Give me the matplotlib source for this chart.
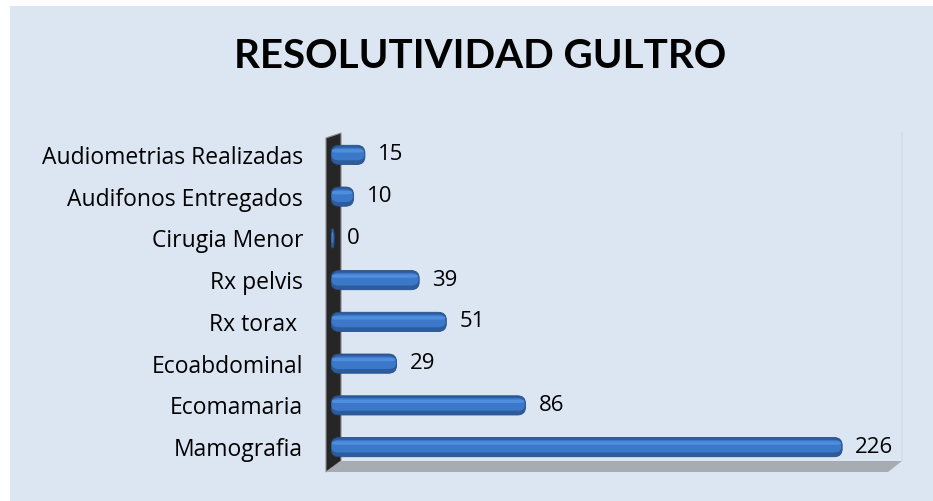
import matplotlib
matplotlib.use("Agg")
import matplotlib.pyplot as plt
from matplotlib.patches import Rectangle, Polygon, FancyBboxPatch

# Data
categories = ["Mamografia", "Ecomamaria", "Ecoabdominal", "Rx torax ",
              "Rx pelvis", "Cirugia Menor", "Audifonos Entregados",
              "Audiometrias Realizadas"]
values = [226, 86, 29, 51, 39, 0, 10, 15]
title = "RESOLUTIVIDAD GULTRO"

W, H = 933, 501
plt.rcParams["font.family"] = ["Open Sans", "DejaVu Sans"]

fig = plt.figure(figsize=(W / 100, H / 100), dpi=100)
fig.patch.set_facecolor("white")

# Light blue chart panel
panel_col = "#DCE6F2"
fig.add_artist(Rectangle((10 / W, 0), 1 - 10 / W, 1 - 6 / H,
                         transform=fig.transFigure, facecolor=panel_col,
                         edgecolor="none", zorder=0))


def px(x, y):
    return (x / W, 1 - y / H)


# 3D side wall (dark) and floor (grey)
wall = Polygon([px(326, 138), px(341, 133), px(341, 461), px(326, 472)],
               closed=True, transform=fig.transFigure, facecolor="#262626",
               edgecolor="#8c8c8c", linewidth=0.8, zorder=1)
floor = Polygon([px(326, 472), px(341, 461), px(902, 461), px(888, 472)],
                closed=True, transform=fig.transFigure, facecolor="#A6ACB2",
                edgecolor="none", zorder=1)
fig.add_artist(wall)
fig.add_artist(floor)
# back wall right edge
fig.add_artist(plt.Line2D([901.5 / W, 901.5 / W], [1 - 461 / H, 1 - 133 / H],
                          transform=fig.transFigure, color="#d3dde9",
                          linewidth=1.2, zorder=1))

# Bar axes
left, right = 331, 901
bottom, top = 468, 134
ax = fig.add_axes([left / W, 1 - bottom / H, (right - left) / W, (bottom - top) / H])
ax.set_zorder(2)
ax.set_facecolor("none")
ax.set_xlim(0, 252)
ax.set_ylim(-0.5, len(categories) - 0.5)
for s in ax.spines.values():
    s.set_visible(False)
ax.set_xticks([])
ax.tick_params(axis="y", length=0, pad=20, labelsize=16.5)
ypos = list(range(len(categories)))
ax.set_yticks(ypos)
ax.set_yticklabels(categories)

bar_h = 0.46
bars = ax.barh(ypos, values, height=bar_h, color="#3B73C2")

# px per data unit, used to keep rounded ends circular
sx = (right - left) / 252
sy = (bottom - top) / len(categories)
r_px = 8
for rect, v in zip(bars, values):
    rect.set_visible(False)
    x0, y0 = rect.get_x(), rect.get_y()
    w, h = rect.get_width(), rect.get_height()
    w = max(w, 1.4)
    r = min(r_px / sx, w / 2)
    aspect = (r_px / sy) / r
    outer = FancyBboxPatch((x0, y0), w, h,
                           boxstyle=f"round,pad=0,rounding_size={r}",
                           mutation_aspect=aspect, facecolor="#2D5C9C",
                           edgecolor="#264f88", linewidth=0.6, zorder=3)
    ax.add_patch(outer)
    inner = FancyBboxPatch((x0 + 0.25, y0 + h * 0.22), max(w - 0.6, 0.4), h * 0.66,
                           boxstyle=f"round,pad=0,rounding_size={r * 0.9}",
                           mutation_aspect=aspect * 0.75, facecolor="#3C78C9",
                           edgecolor="none", zorder=4)
    ax.add_patch(inner)
    hl = FancyBboxPatch((x0 + 0.4, y0 + h * 0.62), max(w - 1.0, 0.3), h * 0.18,
                        boxstyle=f"round,pad=0,rounding_size={r * 0.6}",
                        mutation_aspect=aspect * 0.3, facecolor="#4E8EDD",
                        edgecolor="none", zorder=5)
    ax.add_patch(hl)
    ax.text(x0 + w + 13 / sx, y0 + h / 2, f"{v}", va="center",
            ha="left", fontsize=16, color="black", zorder=6)

fig.text(480 / W, 1 - 57 / H, title, ha="center", va="center",
         fontsize=29, fontweight="bold", color="black", family=["Lato", "DejaVu Sans"])

fig.savefig("out.png", dpi=100, facecolor="white")
